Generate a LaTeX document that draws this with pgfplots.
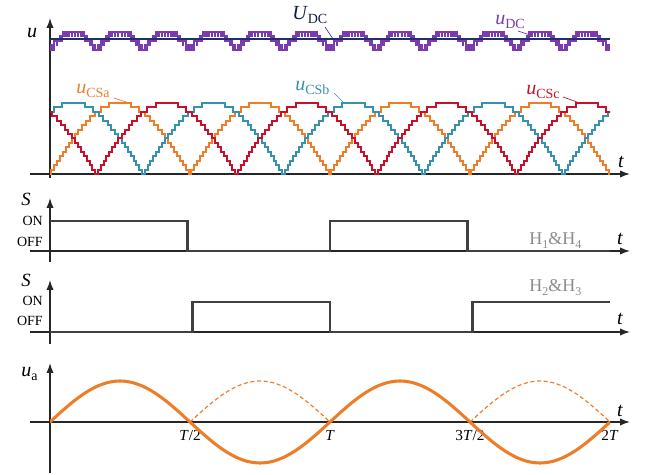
\documentclass[border=0pt]{standalone}
\usepackage{fontspec}
\setmainfont{Liberation Serif}
\usepackage{pgfplots}
\pgfplotsset{compat=1.18}
\usepackage{pgfplotstable}
\usetikzlibrary{arrows.meta}

\definecolor{cOr}{HTML}{EE7D2A}
\definecolor{cTe}{HTML}{3591AC}
\definecolor{cRe}{HTML}{C8102A}
\definecolor{cPu}{HTML}{7B3AAE}
\definecolor{cNa}{HTML}{1F2F6E}
\definecolor{cSw}{HTML}{404040}
\definecolor{cGy}{HTML}{8C8C8C}

\newcommand{\fs}[1]{\fontsize{#1}{#1}\selectfont}
\newcommand{\sub}[2][10.5]{\raisebox{-2.3pt}{\fs{#1}#2}}

% one arch of the staircase capacitor voltage (t in units of T, v in levels)
\pgfplotstableread{
t v
0 0
0.004975 1
0.014943 2
0.024970 3
0.035098 4
0.045374 5
0.055849 6
0.066574 7
0.077652 8
0.089138 9
0.101176 10
0.113955 11
0.127644 12
0.142709 13
0.159833 14
0.180532 15
0.210114 16
0.289886 15
0.319468 14
0.340167 13
0.357291 12
0.372356 11
0.386045 10
0.398824 9
0.410862 8
0.422348 7
0.433426 6
0.444151 5
0.454626 4
0.464902 3
0.475030 2
0.485057 1
0.495025 0
0.5 0
}\arch

% one period (T/6) of u_DC
\pgfplotstableread{
t v
0 28
0.004975 29
0.006834 28
0.013865 29
0.014943 30
0.023958 29
0.024970 30
0.035098 31
0.039023 30
0.043447 31
0.045374 32
0.052712 31
0.055849 32
0.065491 31
0.066574 32
0.077529 31
0.077652 32
0.089015 31
0.089138 32
0.100093 31
0.101176 32
0.110818 31
0.113955 32
0.121293 31
0.123219 30
0.127644 31
0.131569 30
0.141697 29
0.142709 30
0.151724 29
0.152801 28
0.159833 29
0.161692 28
0.166667 28
}\udc

% u_a
\pgfplotstableread{
t v
0 0
0.041667 0.258819
0.083333 0.5
0.125 0.707107
0.166667 0.866025
0.208333 0.965926
0.25 1
0.291667 0.965926
0.333333 0.866025
0.375 0.707107
0.416667 0.5
0.458333 0.258819
0.5 0
0.541667 -0.258819
0.583333 -0.5
0.625 -0.707107
0.666667 -0.866025
0.708333 -0.965926
0.75 -1
0.791667 -0.965926
0.833333 -0.866025
0.875 -0.707107
0.916667 -0.5
0.958333 -0.258819
1 0
1.041667 0.258819
1.083333 0.5
1.125 0.707107
1.166667 0.866025
1.208333 0.965926
1.25 1
1.291667 0.965926
1.333333 0.866025
1.375 0.707107
1.416667 0.5
1.458333 0.258819
1.5 0
1.541667 -0.258819
1.583333 -0.5
1.625 -0.707107
1.666667 -0.866025
1.708333 -0.965926
1.75 -1
1.791667 -0.965926
1.833333 -0.866025
1.875 -0.707107
1.916667 -0.5
1.958333 -0.258819
2 0
}\ua

% dashed positive half wave
\pgfplotstableread{
t v
0.5 0
0.541667 0.258819
0.583333 0.5
0.625 0.707107
0.666667 0.866025
0.708333 0.965926
0.75 1
0.791667 0.965926
0.833333 0.866025
0.875 0.707107
0.916667 0.5
0.958333 0.258819
1 0
}\uadash

\pgfplotsset{
  panel/.style={
    scale only axis, width=420pt, xmin=0, xmax=2,
    axis lines=middle, enlargelimits=false, clip=true,
    xtick=\empty, ytick=\empty,
    axis line style={line width=1pt, black!85},
    x axis line style={-{Latex[length=7.5pt,width=5.5pt]}, shorten <=-15pt, shorten >=-15pt},
    y axis line style={-{Latex[length=7.5pt,width=5.5pt]}},
  },
}

\begin{document}
\begin{tikzpicture}
\path[use as bounding box] (0pt,0pt) rectangle (483.75pt,355.5pt);

% ---------- Panel 1 ----------
\begin{axis}[panel, at={(37.5pt,222pt)}, anchor=south west, height=120pt, ymin=-0.9, ymax=35.15]
\pgfplotsinvokeforeach{0,0.166667,0.333333,0.5,0.666667,0.833333,1,1.166667,1.333333,1.5,1.666667,1.833333}{
  \addplot[cPu, line width=1.5pt, const plot] table[x expr={\thisrow{t}+(#1)}, y=v] {\udc};
}
\addplot[cNa, line width=1.3pt] coordinates {(0,30.4) (2,30.4)};
\pgfplotsinvokeforeach{0,0.5,1,1.5}{
  \addplot[cOr, line width=1.5pt, const plot] table[x expr={\thisrow{t}+(#1)}, y=v] {\arch};
}
\pgfplotsinvokeforeach{-0.166667,0.333333,0.833333,1.333333,1.833333}{
  \addplot[cTe, line width=1.5pt, const plot] table[x expr={\thisrow{t}+(#1)}, y=v] {\arch};
}
\pgfplotsinvokeforeach{-0.333333,0.166667,0.666667,1.166667,1.666667}{
  \addplot[cRe, line width=1.5pt, const plot] table[x expr={\thisrow{t}+(#1)}, y=v] {\arch};
}
\end{axis}

% ---------- Panel 2 ----------
\begin{axis}[panel, at={(37.5pt,159pt)}, anchor=south west, height=48pt, ymin=-0.367, ymax=1.767]
\addplot[cSw, line width=2.1pt, const plot] coordinates {(0,1) (0.49,0) (1,1) (1.49,0) (2,0)};
\end{axis}

% ---------- Panel 3 ----------
\begin{axis}[panel, at={(37.5pt,97.5pt)}, anchor=south west, height=48pt, ymin=-0.4, ymax=1.733]
\addplot[cSw, line width=2.1pt, const plot] coordinates {(0,0) (0.51,1) (1,0) (1.51,1) (2,1)};
\end{axis}

% ---------- Panel 4 ----------
\begin{axis}[panel, at={(37.5pt,0.75pt)}, anchor=south west, height=82.5pt, ymin=-1.244, ymax=1.439,
  xtick={0.5,1,1.5,2}, xticklabels={\textit{T}/2,\textit{T},3\textit{T}/2,2\textit{T}},
  major tick length=0pt,
  xticklabel style={font=\fs{11.5}, anchor=north, inner sep=0pt, yshift=-6pt}]
\addplot[cOr, line width=0.9pt, dash pattern=on 3pt off 2pt, smooth] table[x=t, y=v] {\uadash};
\addplot[cOr, line width=0.9pt, dash pattern=on 3pt off 2pt, smooth] table[x expr={\thisrow{t}+1}, y=v] {\uadash};
\addplot[cOr, line width=2.3pt, smooth, line cap=round] table[x=t, y=v] {\ua};
\end{axis}

% ---------- labels ----------
\begin{scope}[x=0.75pt,y=0.75pt]
\node at (32,441) {\fs{15}\textit{u}};
\node[anchor=base west, inner sep=0pt, cNa!60!black] at (292,454) {\fs{15}\textit{U}\sub{DC}};
\draw[cNa, line width=0.5pt] (325,447) -- (333,435);
\node[anchor=base west, inner sep=0pt, cPu] at (495,449) {\fs{15}\textit{u}\sub{DC}};
\draw[cPu, line width=0.5pt] (518,443) -- (530,439);
\node[anchor=base west, inner sep=0pt, cOr] at (76,380) {\fs{15}\textit{u}\sub{CSa}};
\draw[cOr, line width=0.5pt] (114,376) -- (129,371);
\node[anchor=base west, inner sep=0pt, cTe] at (295,383) {\fs{15}\textit{u}\sub{CSb}};
\draw[cTe, line width=0.5pt] (334,381) -- (343,372);
\node[anchor=base west, inner sep=0pt, cRe] at (526,379) {\fs{15}\textit{u}\sub{CSc}};
\draw[cRe, line width=0.5pt] (563,377) -- (577,372);
\node at (621,312) {\fs{15}\textit{t}};

\node at (26,275) {\fs{14}\textit{S}};
\node[anchor=east, inner sep=0pt] at (43,253) {\fs{10.5}ON};
\node[anchor=east, inner sep=0pt] at (43,232) {\fs{10.5}OFF};
\node[anchor=base west, inner sep=0pt, cGy] at (529,229) {\fs{13.5}H\sub[9]{1}\&H\sub[9]{4}};
\node at (620,235) {\fs{15}\textit{t}};

\node at (26,194) {\fs{14}\textit{S}};
\node[anchor=east, inner sep=0pt] at (43,173) {\fs{10.5}ON};
\node[anchor=east, inner sep=0pt] at (43,153) {\fs{10.5}OFF};
\node[anchor=base west, inner sep=0pt, cGy] at (529,182) {\fs{13.5}H\sub[9]{2}\&H\sub[9]{3}};
\node at (620,155) {\fs{15}\textit{t}};

\node[anchor=base west, inner sep=0pt] at (21,97) {\fs{15}\textit{u}\sub{a}};
\node at (620,63) {\fs{15}\textit{t}};
\end{scope}
\end{tikzpicture}
\end{document}
